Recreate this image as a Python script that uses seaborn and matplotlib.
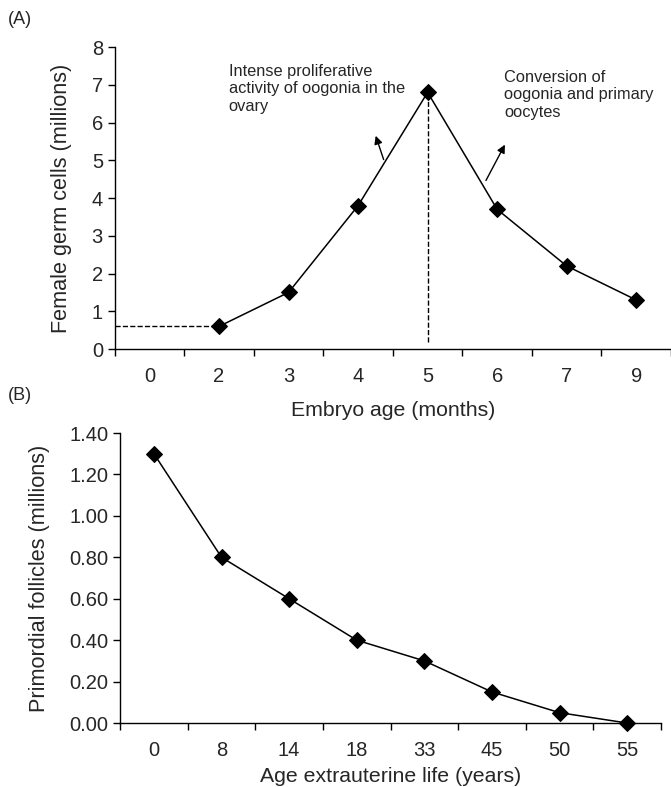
import numpy as np
import pandas as pd
import matplotlib
matplotlib.use("Agg")
import matplotlib.pyplot as plt
import seaborn as sns

# panel A: embryo age vs germ cells
embryo_age = ["0", "2", "3", "4", "5", "6", "7", "9"]
germ_cells = [np.nan, 0.6, 1.5, 3.8, 6.8, 3.7, 2.2, 1.3]

# panel B: extrauterine age vs primordial follicles
life_age = ["0", "8", "14", "18", "33", "45", "50", "55"]
follicles = [1.30, 0.80, 0.60, 0.40, 0.30, 0.15, 0.05, 0.00]

note_up = "Intense proliferative\nactivity of oogonia in the\novary"
note_down = "Conversion of\noogonia and primary\noocytes"

sns.set_theme(style="ticks")
plt.rcParams["font.family"] = ["Liberation Sans", "DejaVu Sans"]

fig = plt.figure(figsize=(6.71, 7.87), dpi=100)
axA = fig.add_axes([0.171, 0.5565, 0.829, 0.3837])
axB = fig.add_axes([0.179, 0.0813, 0.806, 0.3685])


def style_axis(ax, labels):
    n = len(labels)
    ax.set_xlim(-0.5, n - 0.5)
    ax.set_xticks(np.arange(n + 1) - 0.5)
    ax.set_xticklabels([])
    ax.set_xticks(np.arange(n), minor=True)
    ax.set_xticklabels(labels, minor=True)
    ax.tick_params(axis="x", which="major", length=5, width=1, direction="out", color="black")
    ax.tick_params(axis="x", which="minor", length=0, pad=13, labelsize=14.5)
    ax.tick_params(axis="y", length=5, width=1, direction="out", labelsize=14.5, color="black")
    for s in ["top", "right"]:
        ax.spines[s].set_visible(False)
    for s in ["left", "bottom"]:
        ax.spines[s].set_color("black")
        ax.spines[s].set_linewidth(1)


dfA = pd.DataFrame({"age": embryo_age, "cells": germ_cells})
xa = np.arange(len(embryo_age))
sns.lineplot(x=xa, y=dfA["cells"], ax=axA, color="black", lw=1.1,
             marker="D", markersize=8, markeredgecolor="black")
style_axis(axA, embryo_age)
axA.set_ylim(0, 8)
axA.set_yticks(range(0, 9))
axA.set_ylabel("Female germ cells (millions)", fontsize=15.6, labelpad=14)
axA.set_xlabel("Embryo age (months)", fontsize=15.3, labelpad=11)

# dashed guides to the first point and the peak
axA.plot([-0.5, xa[1]], [germ_cells[1], germ_cells[1]], ls="--", color="black", lw=1)
peak = int(np.nanargmax(germ_cells))
axA.plot([xa[peak], xa[peak]], [0.18, germ_cells[peak]], ls="--", color="black", lw=1)

arrow = dict(arrowstyle="-|>", color="black", lw=1, mutation_scale=12)
axA.annotate("", xy=(3.24, 5.72), xytext=(3.38, 4.95), arrowprops=arrow)
axA.annotate("", xy=(5.13, 5.48), xytext=(4.82, 4.40), arrowprops=arrow)
axA.text(1.14, 7.55, note_up, fontsize=11.8, va="top", ha="left", linespacing=1.2)
axA.text(5.10, 7.40, note_down, fontsize=11.8, va="top", ha="left", linespacing=1.2)

dfB = pd.DataFrame({"age": life_age, "foll": follicles})
xb = np.arange(len(life_age))
sns.lineplot(x=xb, y=dfB["foll"], ax=axB, color="black", lw=1.1,
             marker="D", markersize=8, markeredgecolor="black")
style_axis(axB, life_age)
axB.set_ylim(0, 1.4)
axB.set_yticks(np.arange(0, 1.41, 0.2))
axB.set_yticklabels([f"{v:.2f}" for v in np.arange(0, 1.41, 0.2)])
axB.set_ylabel("Primordial follicles (millions)", fontsize=15.6, labelpad=14)
axB.set_xlabel("Age extrauterine life (years)", fontsize=15.3, labelpad=5)

for ax in (axA, axB):
    for ln in ax.lines:
        ln.set_clip_on(False)

fig.text(0.012, 0.975, "(A)", fontsize=13, va="center")
fig.text(0.012, 0.498, "(B)", fontsize=13, va="center")

fig.savefig("out.png", dpi=100)
